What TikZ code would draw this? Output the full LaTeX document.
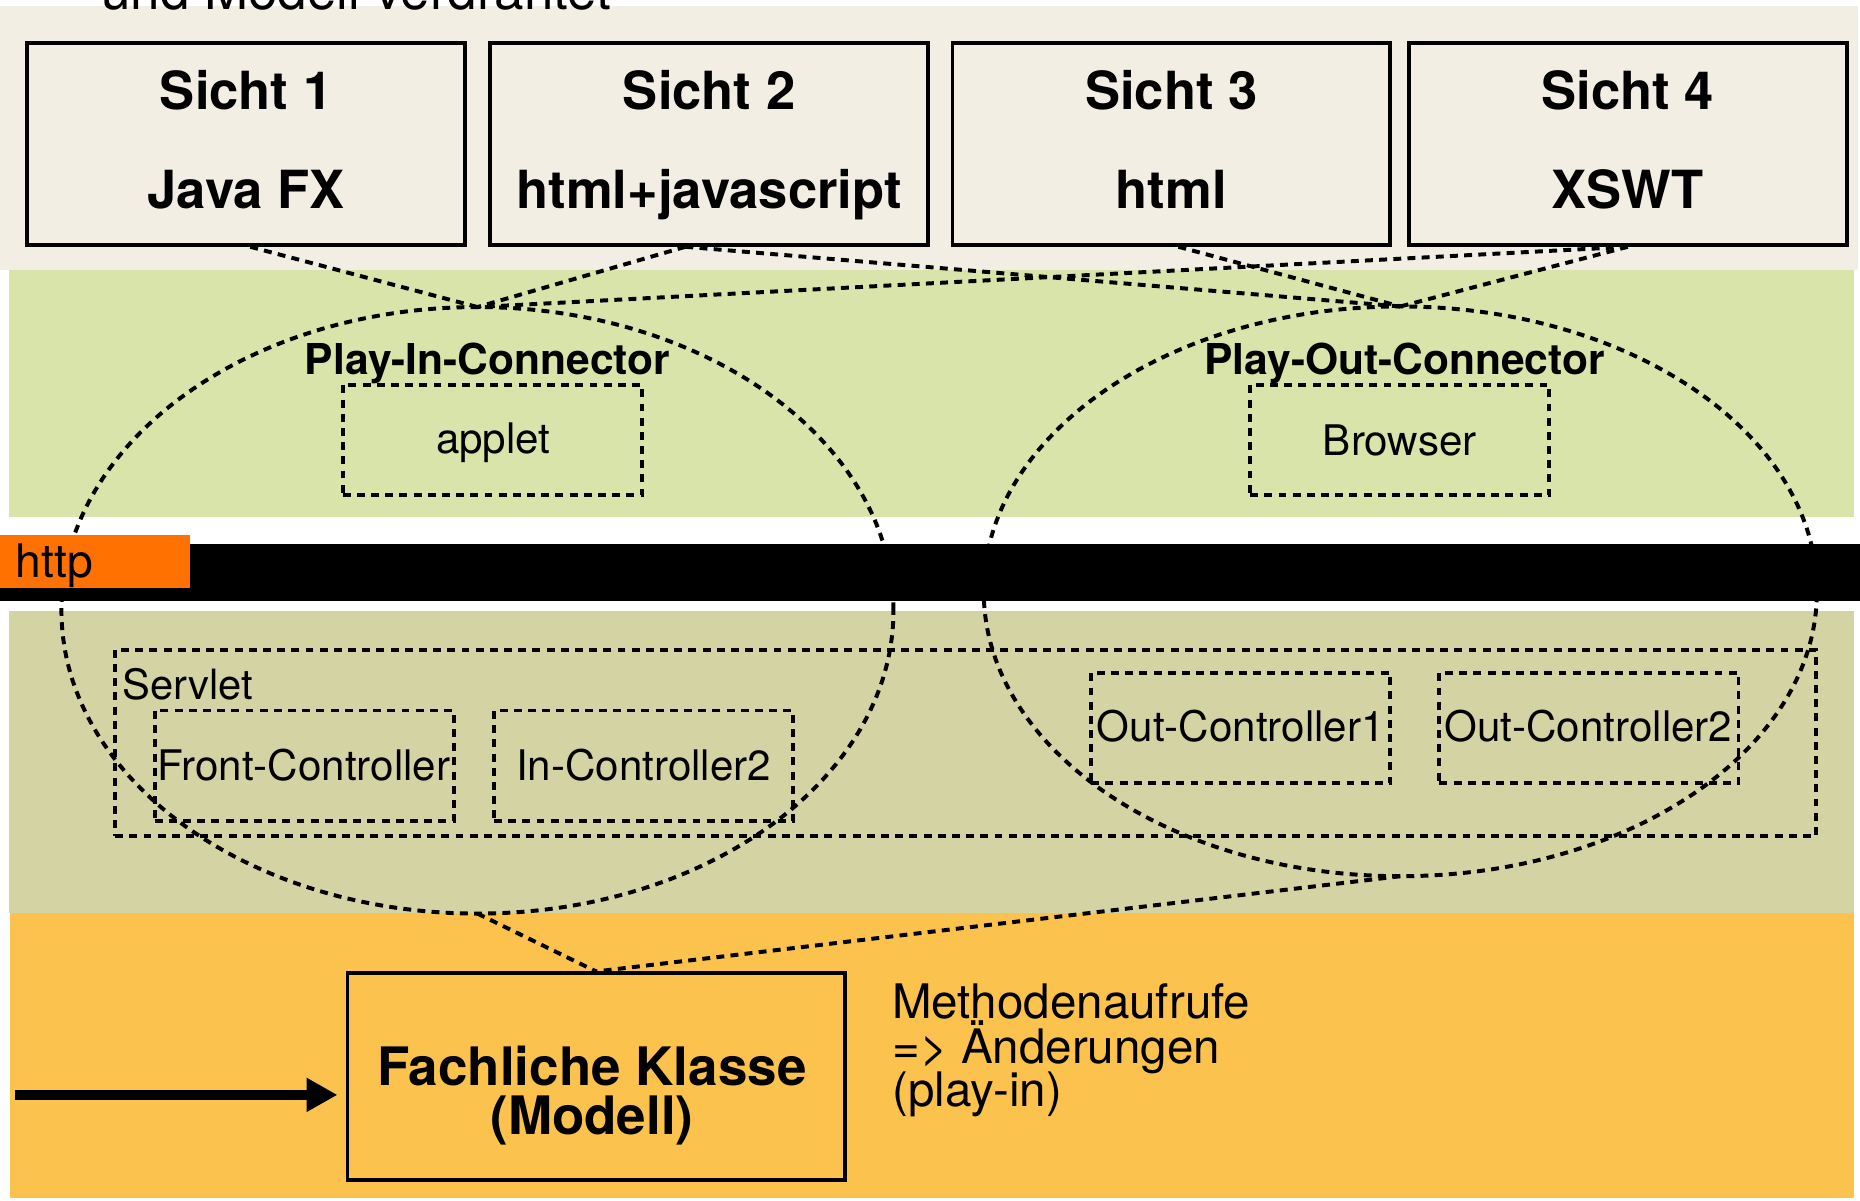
\documentclass[tikz,border=0pt]{standalone}
\usepackage{fontspec}
\setmainfont{TeX Gyre Heros}
\usetikzlibrary{shapes.geometric,arrows.meta}

\definecolor{viewbg}{HTML}{F2EEE4}
\definecolor{clientbg}{HTML}{D9E4AA}
\definecolor{serverbg}{HTML}{D4D3A4}
\definecolor{modelbg}{HTML}{FBC24E}
\definecolor{httporange}{HTML}{FF7100}

\tikzset{
  viewbox/.style={draw, line width=0.85pt, fill=viewbg, minimum width=3.69cm,
    minimum height=1.70cm, inner sep=0pt},
  viewtxt/.style={font=\fontsize{12.6}{15}\selectfont\bfseries, anchor=base, inner sep=0pt},
  conn/.style={line width=0.95pt, dash pattern=on 1.9pt off 1.5pt},
  partbox/.style={draw, conn, minimum width=2.52cm, minimum height=0.93cm, inner sep=0pt},
  parttxt/.style={font=\fontsize{10.1}{12}\selectfont, anchor=base, inner sep=0pt},
  conntitle/.style={font=\fontsize{10.2}{12}\selectfont\bfseries, anchor=base, inner sep=0pt},
  ring/.style={ellipse, draw, conn, inner sep=0pt, outer sep=0pt},
  fachbox/.style={draw, line width=0.85pt, minimum width=4.19cm, minimum height=1.74cm, inner sep=0pt},
  fachtxt/.style={font=\fontsize{12.7}{15}\selectfont\bfseries, anchor=base, inner sep=0pt},
  notetxt/.style={font=\fontsize{11.4}{13}\selectfont, anchor=base west, inner sep=0pt},
}

\begin{document}
\begin{tikzpicture}[x=0.01cm, y=-0.01cm]
\useasboundingbox (0,0) rectangle (1568,1012);

% layer bands
\fill[viewbg]   (0,5) rectangle (1566,227.6);
\fill[clientbg] (7.5,228) rectangle (1562.6,435.6);
\fill[serverbg] (7.5,515) rectangle (1562.6,770);
\fill[modelbg]  (8.4,770) rectangle (1562.6,1010);

% heading, cut off at the upper edge
\node[font=\fontsize{12.7}{15}\selectfont, anchor=base west, inner sep=0pt] (heading)
  at (84.7,8.4) {und Modell verdrahtet};

% views
\node[viewbox] (s1) at (207.5,121.5) {};
\node[viewbox] (s2) at (597.8,121.5) {};
\node[viewbox] (s3) at (987.4,121.5) {};
\node[viewbox] (s4) at (1372.3,121.5) {};
\node[viewtxt] (s1a) at (207.5,92.7)  {Sicht 1};
\node[viewtxt] (s1b) at (207.5,175.6) {Java FX};
\node[viewtxt] (s2a) at (597.8,92.7)  {Sicht 2};
\node[viewtxt] (s2b) at (597.8,175.6) {html+javascript};
\node[viewtxt] (s3a) at (987.4,92.7)  {Sicht 3};
\node[viewtxt] (s3b) at (987.4,175.6) {html};
\node[viewtxt] (s4a) at (1372.3,92.7)  {Sicht 4};
\node[viewtxt] (s4b) at (1372.3,175.6) {XSWT};

% client side
\node[conntitle] (pinlabel)  at (411,315.3)  {Play-In-Connector};
\node[conntitle] (poutlabel) at (1184,315.3) {Play-Out-Connector};
\node[partbox] (applet)  at (415,371) {};
\node[parttxt] (applettxt) at (415.8,382.7) {applet};
\node[partbox] (browser) at (1180,371) {};
\node[parttxt] (browsertxt) at (1180,383.6) {Browser};

% server side
\node[draw, conn, minimum width=14.33cm, minimum height=1.57cm, inner sep=0pt] (servlet)
  at (814,626.2) {};
\node[font=\fontsize{10}{12}\selectfont, anchor=base west, inner sep=0pt] (servlettxt)
  at (102.5,589.6) {Servlet};
\node[partbox] (front) at (256.5,645.5) {};
\node[parttxt] (fronttxt) at (256,657.6) {Front-Controller};
\node[partbox] (inctl) at (542.5,645.5) {};
\node[parttxt] (inctltxt) at (542.6,657.6) {In-Controller2};
\node[partbox] (out1) at (1046,613.7) {};
\node[parttxt] (out1txt) at (1046,625) {Out-Controller1};
\node[partbox] (out2) at (1339.5,613.7) {};
\node[parttxt] (out2txt) at (1339,625) {Out-Controller2};

% connectors grouped by ellipses
\node[ring, minimum width=7.01cm, minimum height=5.11cm] (inring)  at (402.5,514.5) {};
\node[ring, minimum width=7.02cm, minimum height=4.80cm] (outring) at (1180.5,498.5) {};

% transport bar, lying over the ellipses
\fill[black]    (0,458.6) rectangle (1568,506.6);
\fill[httporange] (0,451) rectangle (160,496);
\node[font=\fontsize{11.1}{13}\selectfont, anchor=base west, inner sep=0pt] (http)
  at (12.5,487) {http};

% model
\node[fachbox] (fach) at (502.6,907.5) {};
\node[fachtxt] (fach1) at (499,914.7) {Fachliche Klasse};
\node[fachtxt] (fach2) at (499,956.8) {(Modell)};
\node[notetxt] (note1) at (751.5,858.5) {Methodenaufrufe};
\node[notetxt] (note2) at (751.5,896.5) {=> Änderungen};
\node[notetxt] (note3) at (751.5,933)   {(play-in)};

\coordinate (arrowstart) at (12.6,923);
\draw[line width=0.08cm, -{Triangle[length=0.26cm, width=0.27cm]}, shorten >=0.07cm]
  (arrowstart) -- (arrowstart -| fach.west);

% wiring of views and model to the connectors
\draw[conn] ([xshift=0.035cm]s1.south) -- (inring.north);
\draw[conn] ([xshift=-0.2cm]s2.south) -- (inring.north);
\draw[conn] ([xshift=-0.2cm]s2.south) -- (outring.north);
\draw[conn] ([xshift=0.06cm]s3.south) -- (outring.north);
\draw[conn] (s4.south) -- (outring.north);
\draw[conn] (s4.south) -- (inring.north);
\draw[conn] (inring.south) -- (fach.north);
\draw[conn] (outring.south) -- (fach.north);
\end{tikzpicture}
\end{document}
